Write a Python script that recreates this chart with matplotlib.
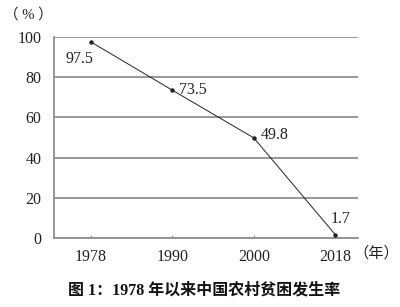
import matplotlib
matplotlib.use("Agg")
import matplotlib.pyplot as plt

years = ["1978", "1990", "2000", "2018"]
rates = [97.5, 73.5, 49.8, 1.7]
yticks = [0, 20, 40, 60, 80, 100]
# label offsets in points (dx, dy) and alignment for each value label
label_offsets = [(-8, -12, "center"), (5, 0, "left"), (5, 2, "left"), (4, 11, "center")]

serif = ["Liberation Serif", "Noto Sans CJK SC"]
plt.rcParams["font.family"] = serif

fig = plt.figure(figsize=(4.0, 3.07), dpi=100)
ax = fig.add_axes([0.135, 0.2248, 0.76, 0.6547])

xs = list(range(len(years)))
ax.plot(xs, rates, color="#222222", linewidth=0.7, marker="o", markersize=2.2, zorder=3)

for x, v, (dx, dy, ha) in zip(xs, rates, label_offsets):
    ax.annotate(str(v), (x, v), xytext=(dx, dy), textcoords="offset points",
                ha=ha, va="center", fontsize=11.5, color="#222222")

ax.set_xlim(-0.455, 3.28)
ax.set_ylim(0, 100)
ax.set_yticks(yticks)
ax.set_xticks(xs)
ax.set_xticklabels(years)
ax.yaxis.grid(True, color="#909090", linewidth=1.3)
ax.set_axisbelow(True)
for s in ["top", "right"]:
    ax.spines[s].set_visible(False)
ax.spines["left"].set_color("#909090")
ax.spines["bottom"].set_color("#909090")
ax.spines["left"].set_linewidth(1.3)
ax.spines["bottom"].set_linewidth(1.3)
ax.tick_params(axis="y", length=0, pad=9, labelsize=11.5, labelcolor="#222222")
ax.tick_params(axis="x", direction="in", length=2, color="#909090", pad=8,
               labelsize=11.5, labelcolor="#222222")

fig.text(0.072, 0.952, "（ % ）", ha="center", va="center", fontsize=10.5, color="#222222")
fig.text(0.94, 0.175, "（年）", ha="center", va="center", fontsize=11, color="#222222")
fig.text(0.51, 0.055, "图 1：1978 年以来中国农村贫困发生率", ha="center", va="center",
         fontsize=11.5, fontweight="bold", color="#111111")

fig.savefig("out.png", dpi=100)
